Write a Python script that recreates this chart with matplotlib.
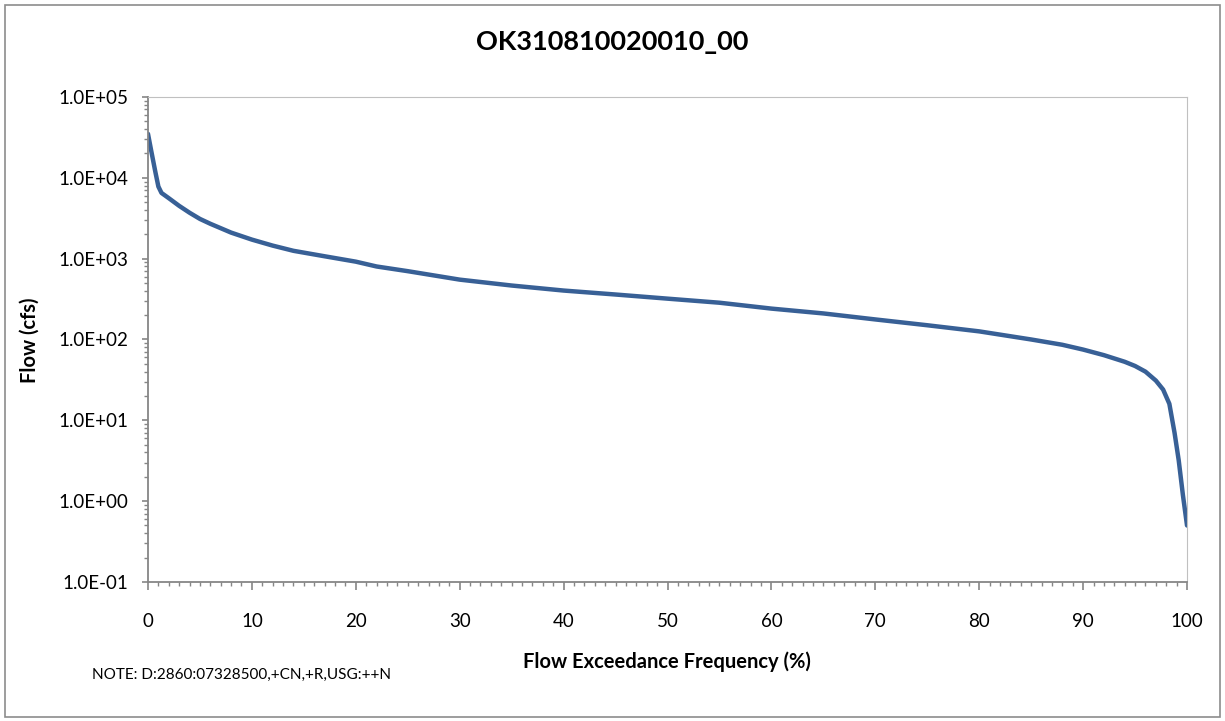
import numpy as np
import matplotlib.pyplot as plt
from matplotlib.patches import Rectangle
from matplotlib.ticker import FuncFormatter, LogLocator, MultipleLocator

plt.rcParams['font.family'] = ['Lato', 'DejaVu Sans']

# flow duration curve (exceedance %, flow in cfs)
exceed = [0, 0.3, 0.7, 1.0, 1.3, 2, 3, 4, 5, 6, 8, 10, 12, 14, 17, 20, 22, 25,
          30, 35, 40, 45, 50, 55, 60, 65, 70, 75, 80, 85, 88, 90, 92, 94, 95,
          96, 97, 97.7, 98.3, 98.8, 99.2, 99.6, 100]
flow = [35000, 22000, 12000, 7800, 6500, 5600, 4500, 3700, 3100, 2700, 2100,
        1720, 1450, 1250, 1070, 918, 800, 700, 550, 465, 403, 360, 320, 285,
        241, 210, 177, 150, 126, 100, 86, 75, 64, 53, 47, 40, 31, 24, 16,
        7, 3.2, 1.2, 0.5]
title = 'OK310810020010_00'
note = 'NOTE: D:2860:07328500,+CN,+R,USG:++N'

fig = plt.figure(figsize=(12.25, 7.21), dpi=100)
fig.patches.append(Rectangle((0.004, 0.006), 0.992, 0.987, transform=fig.transFigure,
                             fill=False, edgecolor='#8c8c8c', linewidth=1.2))
ax = fig.add_axes([0.1208, 0.1928, 0.8482, 0.6727])

ax.plot(exceed, flow, color='#386096', linewidth=3.2, solid_capstyle='round')
ax.set_yscale('log')
ax.set_xlim(0, 100)
ax.set_ylim(0.1, 1e5)

ax.xaxis.set_major_locator(MultipleLocator(10))
ax.xaxis.set_minor_locator(MultipleLocator(1))
ax.yaxis.set_major_locator(LogLocator(base=10, numticks=10))
ax.yaxis.set_minor_locator(LogLocator(base=10, subs=np.arange(2, 10), numticks=20))
ax.yaxis.set_major_formatter(FuncFormatter(lambda v, p: f'{v:.1E}'))

for s in ['top', 'right']:
    ax.spines[s].set_color('#c0c0c0')
for s in ['left', 'bottom']:
    ax.spines[s].set_color('#868686')
    ax.spines[s].set_linewidth(1.3)
ax.tick_params(which='major', color='#868686', length=6, width=1.2,
               labelsize=13.5, colors='#868686', labelcolor='black')
ax.tick_params(which='minor', color='#868686', length=3, width=1)
ax.tick_params(axis='x', which='major', pad=16)
ax.tick_params(axis='y', which='major', length=4, pad=10)

fig.text(0.5, 0.942, title, fontsize=19.5, fontweight='bold', ha='center', va='center')
fig.text(0.5445, 0.0818, 'Flow Exceedance Frequency (%)', fontsize=14.5,
         fontweight='bold', ha='center', va='center')
fig.text(0.0245, 0.528, 'Flow (cfs)', fontsize=14.5, fontweight='bold',
         rotation=90, ha='center', va='center')
fig.text(0.075, 0.0638, note, fontsize=11, va='center')

fig.savefig('out.png', dpi=100)
